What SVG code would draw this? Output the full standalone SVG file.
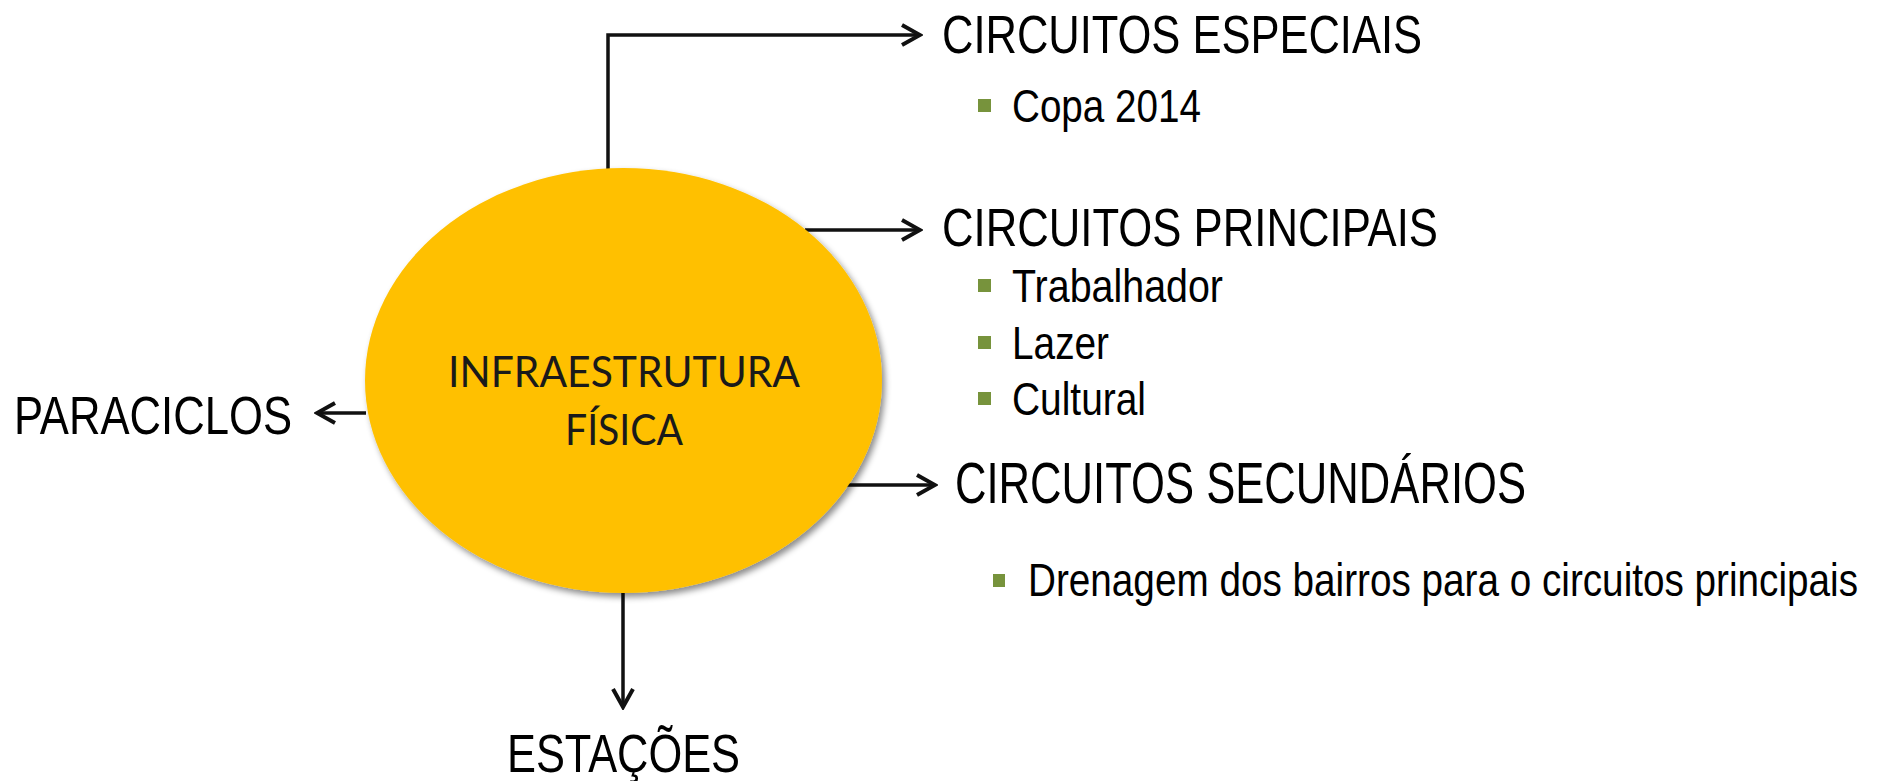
<svg xmlns="http://www.w3.org/2000/svg" width="1881" height="781" viewBox="0 0 1881 781">
  <defs>
    <marker id="arrow" markerUnits="userSpaceOnUse" viewBox="0 0 24 24" refX="21" refY="12" markerWidth="24" markerHeight="24" orient="auto">
      <path d="M3,2 L21,12 L3,22" fill="none" stroke="#111" stroke-width="4"/>
    </marker>
    <filter id="shadow" x="-10%" y="-10%" width="125%" height="125%">
      <feDropShadow dx="3" dy="4" stdDeviation="3" flood-color="#000" flood-opacity="0.45"/>
    </filter>
  </defs>
  <style>
    .lbl { font-family: 'Liberation Sans Narrow', 'Liberation Sans', Arial, sans-serif; fill: #000; }
    .main { font-size: 54px; }
    .sec { font-size: 57px; }
    .sub { font-size: 46px; }
    .center { font-family: Lato, 'Open Sans', sans-serif; font-size: 43px; fill: #1a1a1a; text-anchor: middle; }
    .conn { fill: none; stroke: #111; stroke-width: 3.5; marker-end: url(#arrow); }
    .bullet { fill: #77933C; }
  </style>
  <rect width="1881" height="781" fill="#fff"/>

  <g id="connectors">
    <polyline class="conn" points="608,173 608,35 920,35"/>
    <line class="conn" x1="805" y1="230" x2="920" y2="230"/>
    <line class="conn" x1="847" y1="485" x2="935" y2="485"/>
    <line class="conn" x1="366" y1="413" x2="317" y2="413"/>
    <line class="conn" x1="623" y1="592" x2="623" y2="707"/>
  </g>

  <g id="infraestrutura">
    <ellipse cx="623.5" cy="380.5" rx="258.5" ry="212.5" fill="#FFC000" filter="url(#shadow)"/>
    <text class="center" x="624" y="387" textLength="352" lengthAdjust="spacingAndGlyphs">INFRAESTRUTURA</text>
    <text class="center" x="624" y="445" textLength="118" lengthAdjust="spacingAndGlyphs">FÍSICA</text>
  </g>

  <g id="circuitos-especiais">
    <text class="lbl main" x="942" y="53" textLength="480" lengthAdjust="spacingAndGlyphs">CIRCUITOS ESPECIAIS</text>
    <rect class="bullet" x="978" y="99" width="13" height="13"/>
    <text class="lbl sub" x="1012" y="122" textLength="189" lengthAdjust="spacingAndGlyphs">Copa 2014</text>
  </g>

  <g id="circuitos-principais">
    <text class="lbl main" x="942" y="246" textLength="496" lengthAdjust="spacingAndGlyphs">CIRCUITOS PRINCIPAIS</text>
    <rect class="bullet" x="978" y="279" width="13" height="13"/>
    <text class="lbl sub" x="1012" y="302" textLength="211" lengthAdjust="spacingAndGlyphs">Trabalhador</text>
    <rect class="bullet" x="978" y="336" width="13" height="13"/>
    <text class="lbl sub" x="1012" y="359" textLength="97" lengthAdjust="spacingAndGlyphs">Lazer</text>
    <rect class="bullet" x="978" y="392" width="13" height="13"/>
    <text class="lbl sub" x="1012" y="415" textLength="134" lengthAdjust="spacingAndGlyphs">Cultural</text>
  </g>

  <g id="circuitos-secundarios">
    <text class="lbl sec" x="955" y="503" textLength="571" lengthAdjust="spacingAndGlyphs">CIRCUITOS SECUNDÁRIOS</text>
    <rect class="bullet" x="993" y="574" width="12" height="13"/>
    <text class="lbl sub" x="1028" y="596" textLength="830" lengthAdjust="spacingAndGlyphs">Drenagem dos bairros para o circuitos principais</text>
  </g>

  <g id="paraciclos">
    <text class="lbl main" x="14" y="434" textLength="278" lengthAdjust="spacingAndGlyphs">PARACICLOS</text>
  </g>

  <g id="estacoes">
    <text class="lbl main" x="507" y="772" textLength="233" lengthAdjust="spacingAndGlyphs">ESTAÇÕES</text>
  </g>
</svg>
